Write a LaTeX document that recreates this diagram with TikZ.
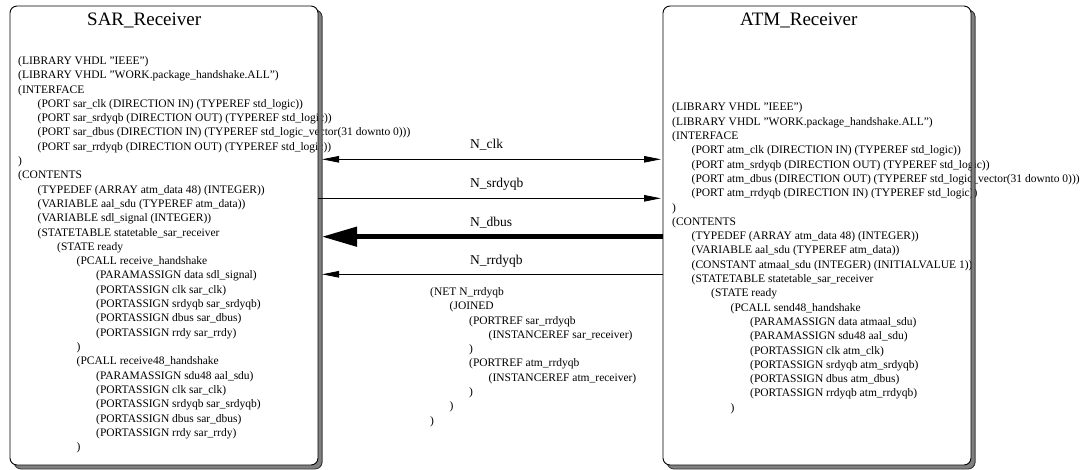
\documentclass[tikz,border=0pt]{standalone}
\usepackage{fontspec}
\setmainfont{Liberation Serif}
\usetikzlibrary{arrows.meta}
\tikzset{
  smallhead/.tip={Triangle[length=17pt,width=6.5pt]},
  bighead/.tip={Triangle[length=35pt,width=19pt]},
}
\newcommand\qq{\symbol{34}}
\begin{document}
\begin{tikzpicture}[x=1pt,y=-1pt,
  code/.style={anchor=base west, inner sep=0pt, font=\fontsize{11.5}{14}\selectfont},
  boxtitle/.style={anchor=base west, inner sep=0pt, font=\fontsize{19}{22}\selectfont},
  netlabel/.style={anchor=base west, inner sep=0pt, font=\fontsize{13.5}{16}\selectfont},
  boxdim/.style={minimum width=308pt, minimum height=459pt, inner sep=0pt, outer sep=0pt, anchor=north west},
  boxshadow/.style={rounded corners=7pt, fill=black!50, draw=black!80, line width=0.8pt},
  boxbody/.style={rounded corners=7pt, fill=white},
  boxedge/.style={rounded corners=7pt, draw=black, line width=0.9pt},
  wire/.style={draw=black, line width=0.9pt},
  thickwire/.style={draw=black, line width=4.5pt},
]
\useasboundingbox (0,0) rectangle (1085,470);

% boxes
\node[boxdim, boxshadow] (sarsh) at (14,10) {};
\node[boxdim, boxbody] (sar) at (10,6) {};
\node[boxdim, boxshadow] (atmsh) at (667,10) {};
\node[boxdim, boxbody] (atm) at (663,6) {};

% titles
\node[boxtitle] (sartitle) at (87,26) {SAR\_Receiver};
\node[boxtitle] (atmtitle) at (740,26) {ATM\_Receiver};

% SAR text
\foreach \lev/\txt [count=\i from 0] in {
 0/{(LIBRARY VHDL \qq IEEE\qq)},
 0/{(LIBRARY VHDL \qq WORK.package\_handshake.ALL\qq)},
 0/{(INTERFACE},
 1/{(PORT sar\_clk (DIRECTION IN) (TYPEREF std\_logic))},
 1/{(PORT sar\_srdyqb (DIRECTION OUT) (TYPEREF std\_logic))},
 1/{(PORT sar\_dbus (DIRECTION IN) (TYPEREF std\_logic\_vector(31 downto 0)))},
 1/{(PORT sar\_rrdyqb (DIRECTION OUT) (TYPEREF std\_logic))},
 0/{)},
 0/{(CONTENTS},
 1/{(TYPEDEF (ARRAY atm\_data 48) (INTEGER))},
 1/{(VARIABLE aal\_sdu (TYPEREF atm\_data))},
 1/{(VARIABLE sdl\_signal (INTEGER))},
 1/{(STATETABLE statetable\_sar\_receiver},
 2/{(STATE ready},
 3/{(PCALL receive\_handshake},
 4/{(PARAMASSIGN data sdl\_signal)},
 4/{(PORTASSIGN clk sar\_clk)},
 4/{(PORTASSIGN srdyqb sar\_srdyqb)},
 4/{(PORTASSIGN dbus sar\_dbus)},
 4/{(PORTASSIGN rrdy sar\_rrdy)},
 3/{)},
 3/{(PCALL receive48\_handshake},
 4/{(PARAMASSIGN sdu48 aal\_sdu)},
 4/{(PORTASSIGN clk sar\_clk)},
 4/{(PORTASSIGN srdyqb sar\_srdyqb)},
 4/{(PORTASSIGN dbus sar\_dbus)},
 4/{(PORTASSIGN rrdy sar\_rrdy)},
 3/{)}}
  \node[code] (sarl\i) at (18+\lev*19.5, 64.5+\i*14.3) {\txt};

% ATM text
\foreach \lev/\txt [count=\i from 0] in {
 0/{(LIBRARY VHDL \qq IEEE\qq)},
 0/{(LIBRARY VHDL \qq WORK.package\_handshake.ALL\qq)},
 0/{(INTERFACE},
 1/{(PORT atm\_clk (DIRECTION IN) (TYPEREF std\_logic))},
 1/{(PORT atm\_srdyqb (DIRECTION OUT) (TYPEREF std\_logic))},
 1/{(PORT atm\_dbus (DIRECTION OUT) (TYPEREF std\_logic\_vector(31 downto 0)))},
 1/{(PORT atm\_rrdyqb (DIRECTION IN) (TYPEREF std\_logic))},
 0/{)},
 0/{(CONTENTS},
 1/{(TYPEDEF (ARRAY atm\_data 48) (INTEGER))},
 1/{(VARIABLE aal\_sdu (TYPEREF atm\_data))},
 1/{(CONSTANT atmaal\_sdu (INTEGER) (INITIALVALUE 1))},
 1/{(STATETABLE statetable\_sar\_receiver},
 2/{(STATE ready},
 3/{(PCALL send48\_handshake},
 4/{(PARAMASSIGN data atmaal\_sdu)},
 4/{(PARAMASSIGN sdu48 aal\_sdu)},
 4/{(PORTASSIGN clk atm\_clk)},
 4/{(PORTASSIGN srdyqb atm\_srdyqb)},
 4/{(PORTASSIGN dbus atm\_dbus)},
 4/{(PORTASSIGN rrdyqb atm\_rrdyqb)},
 3/{)}}
  \node[code] (atml\i) at (672+\lev*19.5, 111+\i*14.3) {\txt};

% NET text
\foreach \lev/\txt [count=\i from 0] in {
 0/{(NET N\_rrdyqb},
 1/{(JOINED},
 2/{(PORTREF sar\_rrdyqb},
 3/{(INSTANCEREF sar\_receiver)},
 2/{)},
 2/{(PORTREF atm\_rrdyqb},
 3/{(INSTANCEREF atm\_receiver)},
 2/{)},
 1/{)},
 0/{)}}
  \node[code] (netl\i) at (430+\lev*19.5, 295.5+\i*14.3) {\txt};

% shadow strips over overflowing text, then borders
\begin{scope}
  \clip ([xshift=0.45pt]sar.north east) rectangle ([xshift=9pt,yshift=-9pt]sar.south east);
  \path[boxshadow] (sarsh.north west) rectangle (sarsh.south east);
\end{scope}
\begin{scope}
  \clip ([xshift=0.45pt]atm.north east) rectangle ([xshift=9pt,yshift=-9pt]atm.south east);
  \path[boxshadow] (atmsh.north west) rectangle (atmsh.south east);
\end{scope}
\draw[boxedge] (sar.north west) rectangle (sar.south east);
\draw[boxedge] (atm.north west) rectangle (atm.south east);

% connector rows
\coordinate (yclk) at (0,159.3);
\coordinate (ysrdy) at (0,198.3);
\coordinate (ydbus) at (0,236.7);
\coordinate (yrrdy) at (0,274.3);
\path (sar.east) ++(4,0) coordinate (sarR);
\path (atm.west) ++(-2,0) coordinate (atmL);

\draw[wire, smallhead-smallhead] (sarR |- yclk) -- (atmL |- yclk);
\draw[wire, -smallhead] (sar.east |- ysrdy) -- (atmL |- ysrdy);
\draw[thickwire, -bighead] (atm.west |- ydbus) -- (sarR |- ydbus);
\draw[wire, -smallhead] (atm.west |- yrrdy) -- (sarR |- yrrdy);

\node[netlabel] (lclk) at (470,149) {N\_clk};
\node[netlabel] (lsrdy) at (470,188) {N\_srdyqb};
\node[netlabel] (ldbus) at (470,227) {N\_dbus};
\node[netlabel] (lrrdy) at (470,265) {N\_rrdyqb};
\end{tikzpicture}
\end{document}
